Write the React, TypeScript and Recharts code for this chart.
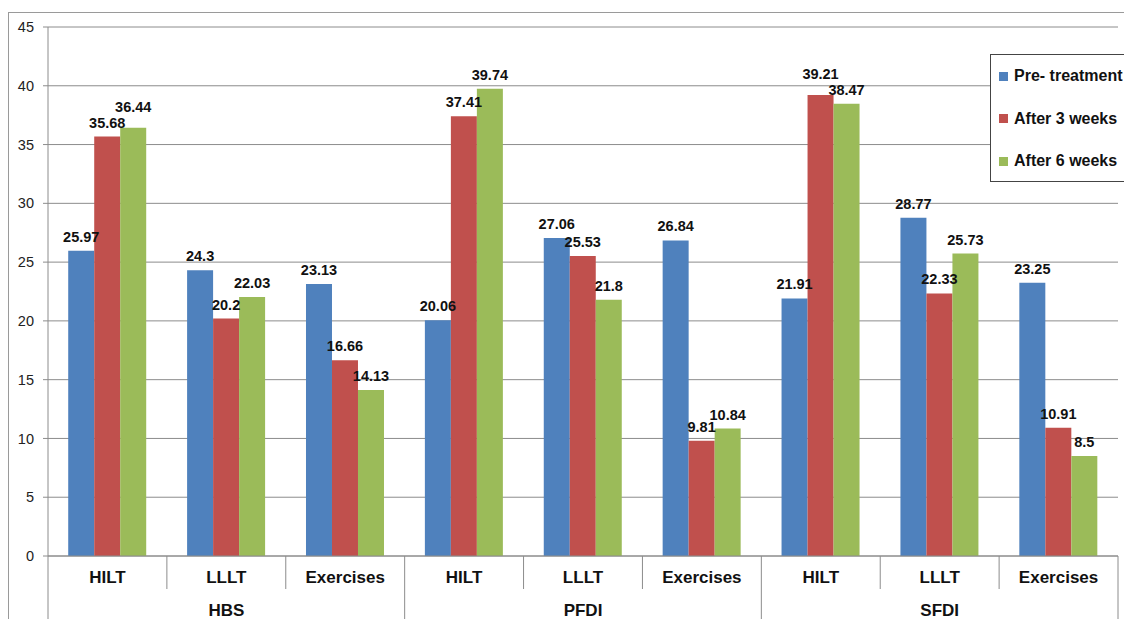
import React from 'react';
import { BarChart, Bar, XAxis, YAxis, CartesianGrid, LabelList } from 'recharts';

const categories = ['HILT', 'LLLT', 'Exercises', 'HILT', 'LLLT', 'Exercises', 'HILT', 'LLLT', 'Exercises'];
const groups = ['HBS', 'PFDI', 'SFDI'];
const preTreatment = [25.97, 24.3, 23.13, 20.06, 27.06, 26.84, 21.91, 28.77, 23.25];
const after3Weeks = [35.68, 20.2, 16.66, 37.41, 25.53, 9.81, 39.21, 22.33, 10.91];
const after6Weeks = [36.44, 22.03, 14.13, 39.74, 21.8, 10.84, 38.47, 25.73, 8.5];
const yTicks = [0, 5, 10, 15, 20, 25, 30, 35, 40, 45];
const seriesNames = ['Pre- treatment', 'After 3 weeks', 'After 6 weeks'];
const seriesKeys = ['pre', 'a3', 'a6'];
const seriesColors = ['#4F81BD', '#C0504D', '#9BBB59'];
const seriesValues = [preTreatment, after3Weeks, after6Weeks];

const data = categories.map((c, i) => ({
  cat: c + '_' + i,
  label: c,
  pre: preTreatment[i],
  a3: after3Weeks[i],
  a6: after6Weeks[i],
}));

const W = 1124;
const H = 619;
const MARGIN = { top: 27, right: 6, bottom: 0, left: 8 };
const Y_AXIS_W = 40;
const X_AXIS_H = 63;
const PLOT_W = W - MARGIN.left - MARGIN.right - Y_AXIS_W;
const AXIS_Y = H - MARGIN.bottom - X_AXIS_H;
const FONT = '"Liberation Sans", Arial, Helvetica, sans-serif';
const GRID = '#8c8c8c';
const LABEL_OFFSET = 9;
const TEXT_H = 11;
const LABEL_GAP = 5;

const CustomTick = (props: any) => {
  const { x, payload, index } = props;
  const band = PLOT_W / categories.length;
  const left = x - band / 2;
  const right = x + band / 2;
  const isGroupStart = index % 3 === 0;
  const last = index === categories.length - 1;
  return (
    <g>
      <line x1={left} x2={left} y1={AXIS_Y} y2={isGroupStart ? H : AXIS_Y + 33} stroke={GRID} strokeWidth={1} />
      {last && <line x1={right} x2={right} y1={AXIS_Y} y2={H} stroke={GRID} strokeWidth={1} />}
      <text x={x} y={AXIS_Y + 27} textAnchor="middle" fontFamily={FONT} fontWeight="bold" fontSize={17} fill="#111">
        {categories[index] ?? payload.value}
      </text>
      {index % 3 === 1 && (
        <text x={x} y={H - 3} textAnchor="middle" fontFamily={FONT} fontWeight="bold" fontSize={17} fill="#111">
          {groups[Math.floor(index / 3)]}
        </text>
      )}
    </g>
  );
};

// Label placed above the bar; if it would collide with an adjacent (lower) label in the
// same category, it is lifted above that label (like the spreadsheet's auto layout).
const makeLabel = (seriesIdx: number) => (props: any) => {
  const { x, y, width, height, value, index } = props;
  const v = Number(value);
  const scale = v > 0 ? Math.abs(height) / v : 0;
  let bottom = y - LABEL_OFFSET;
  [seriesIdx - 1, seriesIdx + 1].forEach((n) => {
    if (n < 0 || n >= seriesValues.length) return;
    const nv = seriesValues[n][index];
    if (nv < v && (v - nv) * scale < TEXT_H + 0.5) {
      const nBottom = y + (v - nv) * scale - LABEL_OFFSET;
      bottom = Math.min(bottom, nBottom - TEXT_H - LABEL_GAP);
    }
  });
  return (
    <text
      x={x + width / 2}
      y={bottom}
      textAnchor="middle"
      fontFamily={FONT}
      fontWeight="bold"
      fontSize={14.5}
      fill="#111"
    >
      {value}
    </text>
  );
};

export default function App() {
  return (
    <div style={{ position: 'absolute', left: 0, top: 0, width: W, height: H, background: '#fff', overflow: 'hidden', fontFamily: FONT }}>
      <div style={{ position: 'absolute', left: 8, top: 12, width: W, height: H, border: '1px solid #9a9a9a', boxSizing: 'border-box' }} />
      <div style={{ position: 'absolute', left: 0, top: 0 }}>
        <BarChart width={W} height={H} data={data} margin={MARGIN} barCategoryGap="17%" barGap={0}>
          <CartesianGrid vertical={false} stroke={GRID} strokeWidth={1} />
          <XAxis
            dataKey="cat"
            height={X_AXIS_H}
            interval={0}
            tickLine={false}
            axisLine={{ stroke: GRID }}
            tick={<CustomTick />}
          />
          <YAxis
            width={Y_AXIS_W}
            domain={[0, 45]}
            ticks={yTicks}
            interval={0}
            tickSize={5}
            tickMargin={9}
            axisLine={{ stroke: GRID }}
            tickLine={{ stroke: GRID }}
            tick={{ fontSize: 14.5, fill: '#222', fontFamily: FONT }}
          />
          {seriesKeys.map((k, i) => (
            <Bar key={k} dataKey={k} name={seriesNames[i]} fill={seriesColors[i]} isAnimationActive={false}>
              <LabelList dataKey={k} content={makeLabel(i)} />
            </Bar>
          ))}
        </BarChart>
      </div>
      <div
        style={{
          position: 'absolute',
          left: 990,
          top: 54,
          width: 150,
          height: 128,
          border: '1px solid #444',
          boxSizing: 'border-box',
          background: '#fff',
        }}
      >
        {seriesNames.map((n, i) => (
          <div
            key={n}
            style={{
              position: 'absolute',
              left: 8,
              top: 11 + i * 42.5,
              height: 20,
              display: 'flex',
              alignItems: 'center',
              whiteSpace: 'nowrap',
            }}
          >
            <span style={{ display: 'inline-block', width: 9, height: 9, background: seriesColors[i], marginRight: 6 }} />
            <span style={{ fontSize: 16, fontWeight: 'bold', color: '#111' }}>{n}</span>
          </div>
        ))}
      </div>
    </div>
  );
}
